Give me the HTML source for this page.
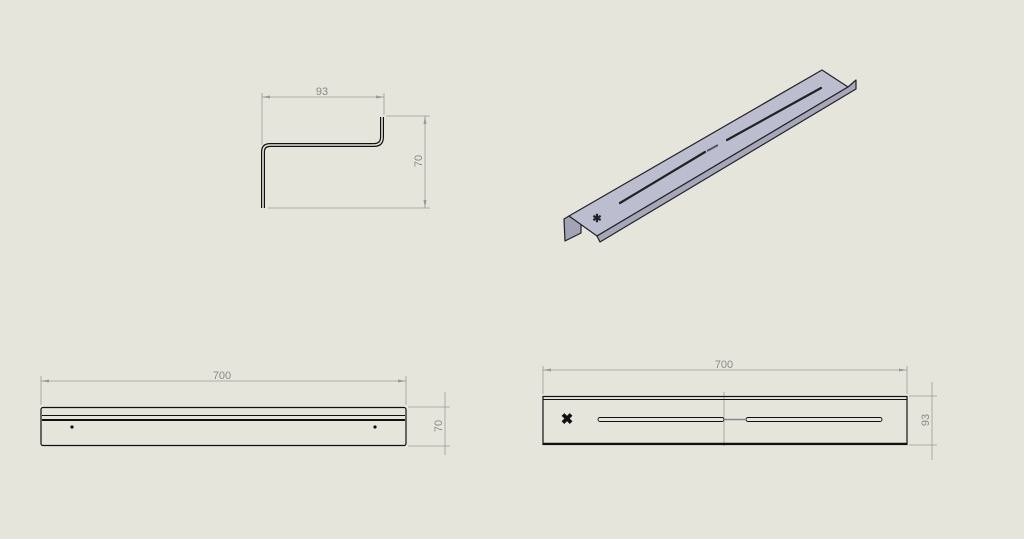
<!DOCTYPE html>
<html><head><style>
html,body{margin:0;padding:0;background:#e6e5dc;}
svg{display:block}
text{font-family:"Liberation Sans",sans-serif;font-size:11px;fill:#8a8a86}
</style></head><body>
<svg width="1024" height="539" viewBox="0 0 1024 539">
<rect width="1024" height="539" fill="#e6e5dc"/>
<g stroke="#9a9a96" stroke-width="0.8" fill="none">
<line x1="262" y1="93" x2="262" y2="145"/><line x1="384" y1="93" x2="384" y2="115"/>
<line x1="262" y1="97" x2="384" y2="97"/>
<line x1="386" y1="116" x2="430" y2="116"/><line x1="268" y1="208" x2="430" y2="208"/>
<line x1="425" y1="116" x2="425" y2="208"/>
<line x1="41" y1="376" x2="41" y2="405"/><line x1="406" y1="376" x2="406" y2="405"/>
<line x1="41" y1="381" x2="406" y2="381"/>
<line x1="408" y1="407" x2="450" y2="407"/><line x1="408" y1="446" x2="450" y2="446"/>
<line x1="445" y1="392" x2="445" y2="455"/>
<line x1="543" y1="366" x2="543" y2="394"/><line x1="907" y1="366" x2="907" y2="394"/>
<line x1="543" y1="370" x2="907" y2="370"/>
<line x1="909" y1="396" x2="937" y2="396"/><line x1="909" y1="445" x2="937" y2="445"/>
<line x1="932" y1="382" x2="932" y2="460"/>
<line x1="724" y1="392" x2="724" y2="446"/>
</g>
<g fill="#9a9a96">
<polygon points="262,97 270,95.5 270,98.5"/><polygon points="384,97 376,95.5 376,98.5"/>
<polygon points="425,116 423.5,124 426.5,124"/><polygon points="425,208 423.5,200 426.5,200"/>
<polygon points="41,381 49,379.5 49,382.5"/><polygon points="406,381 398,379.5 398,382.5"/>
<polygon points="543,370 551,368.5 551,371.5"/><polygon points="907,370 899,368.5 899,371.5"/>
</g>
<text x="322" y="95" text-anchor="middle">93</text>
<text transform="translate(422,161) rotate(-90)" text-anchor="middle">70</text>
<text x="222" y="379" text-anchor="middle">700</text>
<text transform="translate(442,426) rotate(-90)" text-anchor="middle">70</text>
<text x="724" y="368" text-anchor="middle">700</text>
<text transform="translate(929,420) rotate(-90)" text-anchor="middle">93</text>
<path d="M263,208 V152 Q263,145 270,145 H374 Q382,145 382,137 V117" stroke="#111" stroke-width="4" fill="none"/>
<path d="M263,208 V152 Q263,145 270,145 H374 Q382,145 382,137 V117" stroke="#e6e5dc" stroke-width="1.6" fill="none"/>
<g stroke="#222" stroke-width="1.2" stroke-linejoin="round">
<polygon points="564,219 569,216 581,224 581,233 565,241" fill="#a2a3b6"/>
<polygon points="569,216 822,70 848,87 597,236" fill="#bcbdcf"/>
<polygon points="597,236 848,87 856,80 856,89 600,242" fill="#a6a7bb"/>
</g>
<g stroke="#222" stroke-width="2.2" stroke-linecap="round">
<line x1="620" y1="203" x2="705" y2="152"/>
<line x1="727" y1="140" x2="821" y2="88"/>
</g>
<line x1="707" y1="151" x2="718" y2="145" stroke="#556" stroke-width="2"/>
<text x="597" y="222" style="font-size:11px;fill:#222;font-weight:bold" text-anchor="middle">✱</text>
<g stroke="#111" fill="none">
<rect x="41" y="407.5" width="365" height="38" rx="2" stroke-width="1.2"/>
<line x1="42" y1="415.5" x2="405" y2="415.5" stroke-width="1"/>
<line x1="42" y1="420" x2="405" y2="420" stroke-width="2"/>
</g>
<circle cx="72" cy="427" r="1.6" fill="#111"/><circle cx="375" cy="427" r="1.6" fill="#111"/>
<g stroke="#111" fill="none">
<rect x="543" y="396.5" width="364" height="48" stroke-width="1.2"/>
<line x1="543" y1="399.5" x2="907" y2="399.5" stroke-width="0.9"/>
<line x1="543" y1="443.5" x2="907" y2="443.5" stroke-width="1.5"/>
<rect x="598" y="417.5" width="126" height="4" rx="2" stroke-width="0.9"/>
<rect x="746" y="417.5" width="136" height="4" rx="2" stroke-width="0.9"/>
</g>
<line x1="724" y1="419.5" x2="746" y2="419.5" stroke="#888" stroke-width="1.5"/>
<text x="567" y="424" style="font-size:15px;fill:#111;font-weight:bold" text-anchor="middle">✖</text>
</svg>
</body></html>
